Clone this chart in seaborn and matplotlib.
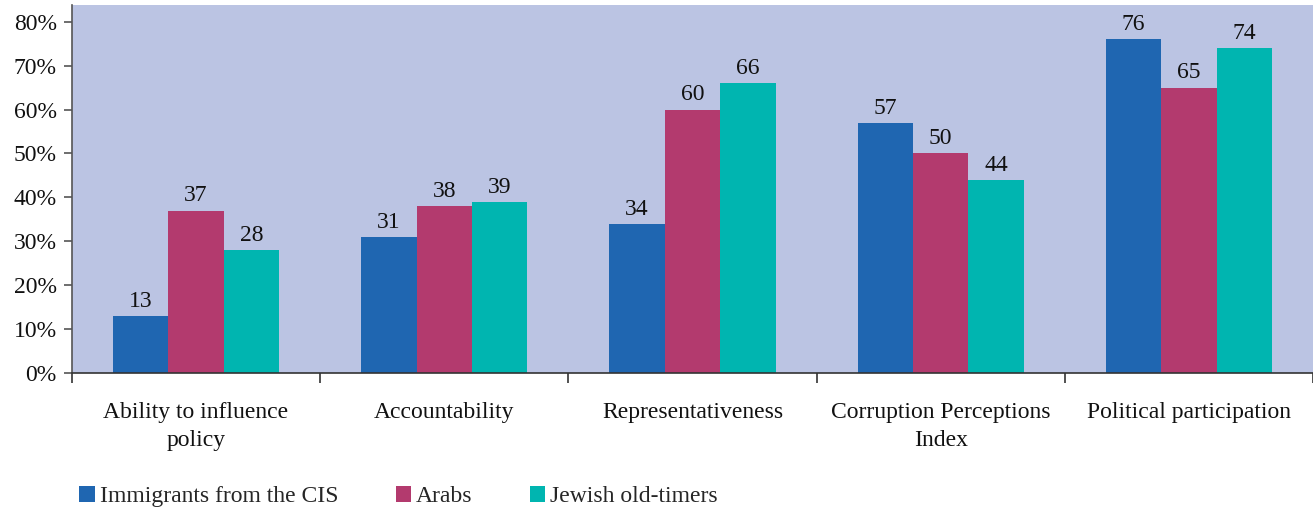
import matplotlib
matplotlib.use("Agg")
import matplotlib.pyplot as plt
import seaborn as sns
import pandas as pd
from matplotlib.ticker import FixedLocator, PercentFormatter
from matplotlib.patches import Patch

categories = ["Ability to influence\npolicy", "Accountability", "Representativeness",
              "Corruption Perceptions\nIndex", "Political participation"]
groups = ["Immigrants from the CIS", "Arabs", "Jewish old-timers"]
cis = [13, 31, 34, 57, 76]
arabs = [37, 38, 60, 50, 65]
old_timers = [28, 39, 66, 44, 74]
y_ticks = [0, 10, 20, 30, 40, 50, 60, 70, 80]

colors = ["#1F66B1", "#B33A6E", "#00B5B0"]
FS = 17

df = pd.DataFrame({
    "category": categories * 3,
    "group": [groups[0]] * 5 + [groups[1]] * 5 + [groups[2]] * 5,
    "value": cis + arabs + old_timers,
})

sns.set_style("white")
plt.rcParams["font.family"] = ["Liberation Serif", "DejaVu Serif"]
plt.rcParams["font.size"] = FS

fig = plt.figure(figsize=(13.13, 5.12), dpi=100)
ax = fig.add_axes([0.0548, 0.2715, 0.9452, 0.7185])
ax.set_facecolor("#BBC4E3")

sns.barplot(data=df, x="category", y="value", hue="group", order=categories,
            hue_order=groups, palette=colors, width=0.67, saturation=1,
            ax=ax, legend=False, linewidth=0)

for cont in ax.containers:
    ax.bar_label(cont, fmt="%g", padding=3, fontsize=FS, color="#111111")

ax.set_xlim(-0.5, 4.5)
ax.set_ylim(0, 83.8)
ax.yaxis.set_major_locator(FixedLocator(y_ticks))
ax.yaxis.set_major_formatter(PercentFormatter(decimals=0))
ax.set_xlabel("")
ax.set_ylabel("")

# category labels without ticks, group boundaries with ticks
ax.tick_params(axis="x", which="major", bottom=True, length=0, pad=21,
               labelsize=FS, colors="#111111")
ax.xaxis.set_minor_locator(FixedLocator([-0.5, 0.5, 1.5, 2.5, 3.5, 4.5]))
ax.tick_params(axis="x", which="minor", bottom=True, length=7, width=1.2,
               color="#333333", direction="out")
ax.tick_params(axis="y", left=True, length=6, width=1.2, color="#555555",
               direction="out", labelsize=FS, labelcolor="#111111", pad=5)
for lbl in ax.get_xticklabels():
    lbl.set_linespacing(1.45)

for side in ["top", "right"]:
    ax.spines[side].set_visible(False)
ax.spines["left"].set_color("#555555")
ax.spines["left"].set_linewidth(1.2)
ax.spines["bottom"].set_color("#333333")
ax.spines["bottom"].set_linewidth(1.2)

handles = [Patch(facecolor=c, edgecolor="none", label=g) for c, g in zip(colors, groups)]
fig.legend(handles=handles, loc="center left", bbox_to_anchor=(0.0605, 0.030), ncol=3,
           frameon=False, fontsize=FS, handlelength=0.64, handleheight=0.64,
           handletextpad=0.22, columnspacing=2.43, borderaxespad=0, borderpad=0)

fig.savefig("out.png", dpi=100)
